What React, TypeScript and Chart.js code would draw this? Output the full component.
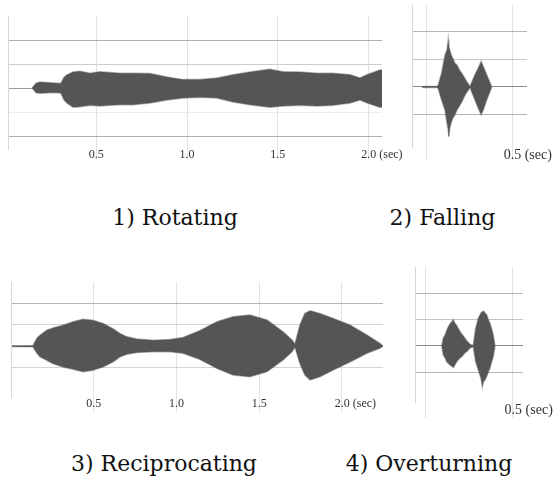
import React, { useEffect, useRef } from "react";
import { Chart, registerables } from "chart.js";

Chart.register(...registerables);

// ---------- DATA ----------
// 1) Rotating : time (sec), upper / lower envelope of the signal (grid units)
const rotTimes = [0.146, 0.168, 0.19, 0.245, 0.289, 0.305, 0.322, 0.338, 0.372, 0.41, 0.465, 0.52, 0.575, 0.63, 0.702, 0.796, 0.889, 0.978, 1.072, 1.165, 1.254, 1.347, 1.457, 1.529, 1.623, 1.717, 1.805, 1.899, 1.954, 1.992, 2.063, 2.075];
const rotUpper = [0, 0.2, 0.25, 0.22, 0.2, 0.2, 0.45, 0.55, 0.67, 0.7, 0.62, 0.68, 0.65, 0.62, 0.62, 0.6, 0.46, 0.35, 0.35, 0.42, 0.55, 0.67, 0.78, 0.68, 0.67, 0.62, 0.62, 0.55, 0.42, 0.55, 0.75, 0.75];
const rotLower = [0, -0.2, -0.22, -0.2, -0.2, -0.22, -0.5, -0.62, -0.8, -0.78, -0.72, -0.75, -0.72, -0.7, -0.7, -0.62, -0.5, -0.42, -0.38, -0.42, -0.58, -0.7, -0.8, -0.75, -0.72, -0.75, -0.72, -0.62, -0.5, -0.62, -0.8, -0.8];
const rotTicks = [0.5, 1.0, 1.5, 2.0];
const rotTickLabels = ["0.5", "1.0", "1.5", "2.0 (sec)"];

// 2) Falling
const fallTimes = [-0.03, -0.02, 0.06, 0.066, 0.086, 0.106, 0.118, 0.125, 0.129, 0.134, 0.141, 0.15, 0.165, 0.175, 0.194, 0.204, 0.224, 0.233, 0.253, 0.282, 0.306, 0.318, 0.331, 0.351, 0.381];
const fallUpper = [0, 0.02, 0.02, 0.06, 0.5, 1.15, 1.34, 1.72, 1.45, 1.34, 1.18, 1.05, 0.85, 0.8, 0.58, 0.5, 0.3, 0.2, 0.02, 0.44, 0.74, 0.92, 0.74, 0.44, 0];
const fallLower = [0, -0.02, -0.02, -0.06, -0.47, -0.83, -1.31, -1.55, -1.79, -1.5, -1.31, -1.15, -1.0, -0.85, -0.65, -0.55, -0.29, -0.2, -0.02, -0.47, -0.83, -1.0, -0.83, -0.47, 0];
const fallTicks = [0, 0.5];
const fallTickLabels = ["", "0.5 (sec)"];

// 3) Reciprocating
const recTimes = [0.006, 0.133, 0.145, 0.157, 0.175, 0.216, 0.254, 0.314, 0.375, 0.435, 0.495, 0.556, 0.616, 0.659, 0.7, 0.761, 0.858, 0.961, 1.039, 1.142, 1.245, 1.341, 1.444, 1.547, 1.644, 1.698, 1.716, 1.746, 1.776, 1.807, 1.867, 1.945, 2.048, 2.151, 2.23, 2.248];
const recUpper = [0.02, 0.03, 0.2, 0.37, 0.5, 0.74, 0.84, 0.97, 1.13, 1.25, 1.2, 1.05, 0.81, 0.58, 0.43, 0.33, 0.27, 0.3, 0.4, 0.72, 1.13, 1.36, 1.44, 1.21, 0.66, 0.28, 0.1, 0.98, 1.52, 1.64, 1.52, 1.29, 0.98, 0.51, 0.12, 0];
const recLower = [-0.02, -0.03, -0.2, -0.34, -0.5, -0.66, -0.82, -0.97, -1.08, -1.19, -1.13, -0.97, -0.74, -0.5, -0.38, -0.3, -0.27, -0.26, -0.34, -0.62, -1.04, -1.35, -1.43, -1.19, -0.65, -0.26, -0.05, -0.81, -1.35, -1.58, -1.43, -1.12, -0.74, -0.34, -0.1, 0];
const recTicks = [0.5, 1.0, 1.5, 2.0];
const recTickLabels = ["0.5", "1.0", "1.5", "2.0 (sec)"];

// 4) Overturning
const overTimes = [0.095, 0.104, 0.114, 0.123, 0.132, 0.142, 0.152, 0.161, 0.17, 0.18, 0.199, 0.209, 0.227, 0.237, 0.256, 0.274, 0.288, 0.303, 0.318, 0.326, 0.333, 0.341, 0.351, 0.36, 0.369, 0.379, 0.388, 0.398];
const overUpper = [0, 0.3, 0.42, 0.58, 0.73, 0.84, 0.92, 0.99, 0.86, 0.78, 0.54, 0.45, 0.29, 0.2, 0.06, 0.02, 0.67, 1.05, 1.25, 1.3, 1.33, 1.25, 1.18, 1.0, 0.86, 0.65, 0.4, 0];
const overLower = [0, -0.34, -0.45, -0.6, -0.66, -0.72, -0.77, -0.82, -0.72, -0.6, -0.45, -0.41, -0.26, -0.22, -0.08, -0.02, -0.6, -0.91, -1.23, -1.55, -1.35, -1.29, -1.15, -0.98, -0.85, -0.6, -0.4, 0];
const overTicks = [0, 0.5];
const overTickLabels = ["", "0.5 (sec)"];

const captions = ["1) Rotating", "2) Falling", "3) Reciprocating", "4) Overturning"];

// ---------- STYLE ----------
const WAVE = "#555555";
const EDGE = "rgba(85,85,85,0.45)";
const VGRID = "#e3e3e3";

type PanelProps = {
  times: number[];
  upper: number[];
  lower: number[];
  tickValues: number[];
  tickLabels: string[];
  hLines: number[];
  hColors: Record<string, string>;
  xMin: number;
  xMax: number;
  yMin: number;
  yMax: number;
  left: number;
  top: number;
  areaW: number;
  areaH: number;
  padRight: number;
  axisH: number;
  tickLen: number;
  tickPad: number;
  fontSize: number;
};

function padLabel(s: string): string {
  // keep the number centred on its grid line, the unit hanging to the right
  const i = s.indexOf(" (");
  if (i < 0) return s;
  return " ".repeat(9) + s;
}

function Panel(p: PanelProps) {
  const ref = useRef<HTMLCanvasElement | null>(null);
  const w = 1 + p.areaW + p.padRight;
  const h = p.areaH + p.axisH;
  useEffect(() => {
    if (!ref.current) return;
    const chart = new Chart(ref.current, {
      type: "line",
      data: {
        datasets: [
          {
            data: p.times.map((t, i) => ({ x: t, y: p.upper[i] })),
            fill: "+1",
            backgroundColor: WAVE,
            borderColor: EDGE,
            borderWidth: 1.5,
            pointRadius: 0,
            tension: 0,
          },
          {
            data: p.times.map((t, i) => ({ x: t, y: p.lower[i] })),
            fill: false,
            backgroundColor: WAVE,
            borderColor: EDGE,
            borderWidth: 1.5,
            pointRadius: 0,
            tension: 0,
          },
        ],
      },
      options: {
        animation: false,
        responsive: false,
        events: [],
        layout: { padding: { left: 1, right: p.padRight, top: 0, bottom: 0 } },
        plugins: { legend: { display: false }, tooltip: { enabled: false }, title: { display: false } },
        scales: {
          x: {
            type: "linear",
            min: p.xMin,
            max: p.xMax,
            afterBuildTicks: (s: any) => {
              s.ticks = p.tickValues.map((v) => ({ value: v }));
            },
            afterFit: (s: any) => {
              s.height = p.axisH;
              s.paddingLeft = 0;
              s.paddingRight = 0;
            },
            grid: { color: VGRID, lineWidth: 1, drawTicks: true, tickLength: p.tickLen, tickColor: VGRID },
            border: { display: false },
            ticks: {
              padding: p.tickPad,
              autoSkip: false,
              maxRotation: 0,
              minRotation: 0,
              color: "#333",
              font: { family: "Liberation Serif", size: p.fontSize },
              callback: (_v: any, i: number) => padLabel(p.tickLabels[i] ?? ""),
            },
          },
          y: {
            type: "linear",
            min: p.yMin,
            max: p.yMax,
            afterBuildTicks: (s: any) => {
              s.ticks = p.hLines.map((v) => ({ value: v }));
            },
            afterFit: (s: any) => {
              s.width = 0;
            },
            grid: {
              drawTicks: false,
              lineWidth: 1,
              color: (ctx: any) => p.hColors[String(ctx.tick?.value)] ?? "#ccc",
            },
            border: { display: true, color: "#d6d6d6" },
            ticks: { display: false },
          },
        },
      },
    } as any);
    return () => chart.destroy();
  }, []);
  return (
    <canvas
      ref={ref}
      width={w}
      height={h}
      style={{ position: "absolute", left: p.left - 1, top: p.top, width: w, height: h }}
    />
  );
}

function Caption({ text, cx, baseline }: { text: string; cx: number; baseline: number }) {
  return (
    <div
      style={{
        position: "absolute",
        left: cx - 150,
        top: baseline - 20.6,
        width: 300,
        textAlign: "center",
        whiteSpace: "nowrap",
        fontFamily: "'DejaVu Serif', serif",
        fontSize: 22,
        lineHeight: "26px",
        color: "#111",
      }}
    >
      {text}
    </div>
  );
}

export default function App() {
  return (
    <div style={{ position: "fixed", left: 0, top: 0, width: 555, height: 489, background: "#fff", overflow: "hidden" }}>
      <Panel
        times={rotTimes} upper={rotUpper} lower={rotLower}
        tickValues={rotTicks} tickLabels={rotTickLabels}
        hLines={[2, 1, 0, -1, -2]}
        hColors={{ "2": "#b0b0b0", "1": "#cdcdcd", "0": "#9a9a9a", "-1": "#ececec", "-2": "#b0b0b0" }}
        xMin={0.013} xMax={2.075} yMin={-2.54} yMax={3}
        left={8} top={16} areaW={374} areaH={133} padRight={25}
        axisH={14} tickLen={11} tickPad={-12} fontSize={12}
      />
      <Panel
        times={fallTimes} upper={fallUpper} lower={fallLower}
        tickValues={fallTicks} tickLabels={fallTickLabels}
        hLines={[2, 1, 0, -1]}
        hColors={{ "2": "#b5b5b5", "1": "#c5c5c5", "0": "#8c8c8c", "-1": "#b5b5b5" }}
        xMin={-0.088} xMax={0.588} yMin={-2.17} yMax={2.96}
        left={412} top={5} areaW={115} areaH={142} padRight={28}
        axisH={16} tickLen={13} tickPad={-13} fontSize={14}
      />
      <Panel
        times={recTimes} upper={recUpper} lower={recLower}
        tickValues={recTicks} tickLabels={recTickLabels}
        hLines={[2, 1, 0, -1]}
        hColors={{ "2": "#b5b5b5", "1": "#d5d5d5", "0": "#999999", "-1": "#d5d5d5" }}
        xMin={0} xMax={2.248} yMin={-2.37} yMax={2.98}
        left={11} top={282} areaW={372} areaH={115} padRight={25}
        axisH={16} tickLen={15} tickPad={-15} fontSize={12}
      />
      <Panel
        times={overTimes} upper={overUpper} lower={overLower}
        tickValues={overTicks} tickLabels={overTickLabels}
        hLines={[2, 1, 0, -1]}
        hColors={{ "2": "#b5b5b5", "1": "#c5c5c5", "0": "#8c8c8c", "-1": "#b5b5b5" }}
        xMin={-0.057} xMax={0.557} yMin={-2.13} yMax={3.0}
        left={415} top={267} areaW={108} areaH={135} padRight={32}
        axisH={17} tickLen={16} tickPad={-16} fontSize={14}
      />
      <Caption text={captions[0]} cx={175} baseline={226} />
      <Caption text={captions[1]} cx={442.5} baseline={226} />
      <Caption text={captions[2]} cx={164} baseline={472} />
      <Caption text={captions[3]} cx={429} baseline={472} />
    </div>
  );
}
